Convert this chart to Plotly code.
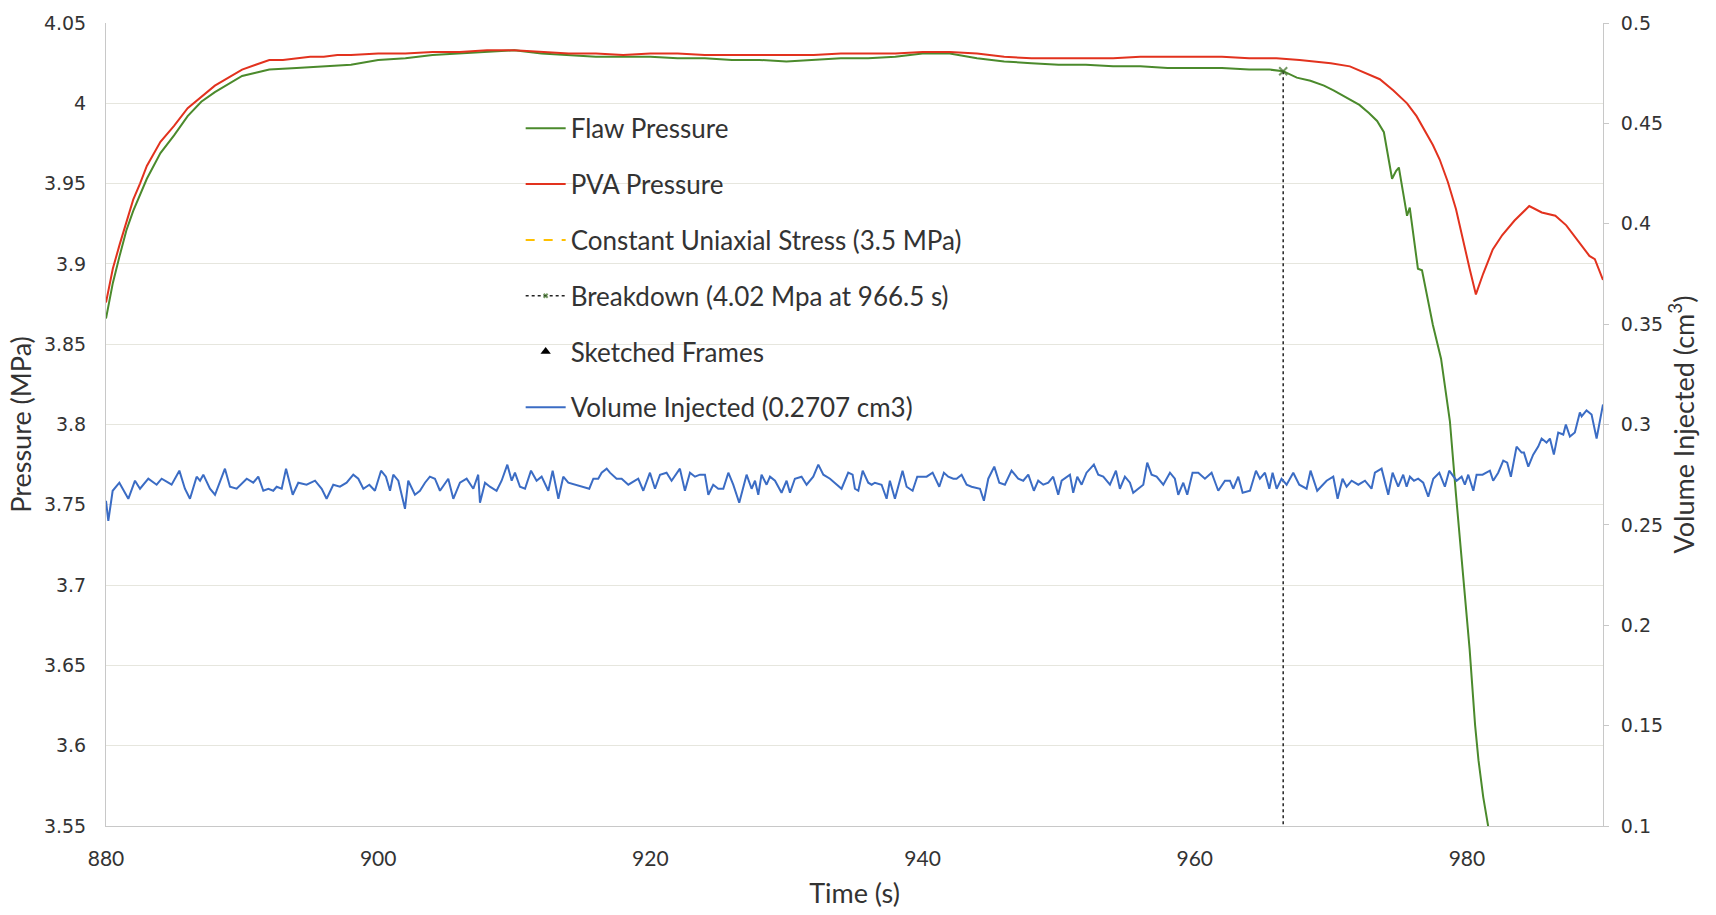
import plotly.graph_objects as go

# ---- Pressure records (MPa) ----
pva_time = [880.0, 880.5, 881.0, 881.5, 882.0, 882.5, 883.0, 884.0, 885.0, 886.0, 887.0, 888.0,
            889.0, 890.0, 891.0, 892.0, 893.0, 894.0, 895.0, 896.0, 897.0, 898.0, 900.0, 902.0,
            904.0, 906.0, 908.0, 910.0, 912.0, 914.0, 916.0, 918.0, 920.0, 922.0, 924.0, 926.0,
            928.0, 930.0, 932.0, 934.0, 936.0, 938.0, 940.0, 942.0, 944.0, 946.0, 948.0, 950.0,
            952.0, 954.0, 956.0, 958.0, 960.0, 962.0, 964.0, 966.0, 967.7, 969.0, 970.0, 971.4,
            972.5, 973.6, 974.6, 975.6, 976.3, 977.0, 977.5, 978.0, 978.6, 979.2, 979.7, 980.2,
            980.66, 981.2, 981.9, 982.6, 983.5, 984.58, 985.5, 986.5, 987.3, 988.2, 989.0, 989.4,
            990.0]
pva_pressure = [3.876, 3.897, 3.912, 3.926, 3.940, 3.950, 3.961, 3.976, 3.986, 3.997, 4.004, 4.011,
                4.016, 4.021, 4.024, 4.027, 4.027, 4.028, 4.029, 4.029, 4.030, 4.030, 4.031, 4.031,
                4.032, 4.032, 4.033, 4.033, 4.032, 4.031, 4.031, 4.030, 4.031, 4.031, 4.030, 4.030,
                4.030, 4.030, 4.030, 4.031, 4.031, 4.031, 4.032, 4.032, 4.031, 4.029, 4.028, 4.028,
                4.028, 4.028, 4.029, 4.029, 4.029, 4.029, 4.028, 4.028, 4.027, 4.026, 4.025, 4.023,
                4.019, 4.015, 4.008, 4.000, 3.992, 3.982, 3.974, 3.965, 3.951, 3.934, 3.915, 3.897,
                3.881, 3.894, 3.909, 3.918, 3.927, 3.936, 3.932, 3.930, 3.924, 3.914, 3.905, 3.903,
                3.890]

flaw_time = [880.0, 880.5, 881.0, 881.5, 882.0, 882.5, 883.0, 884.0, 885.0, 886.0, 887.0, 888.0,
             889.0, 890.0, 891.0, 892.0, 894.0, 896.0, 898.0, 900.0, 902.0, 904.0, 906.0, 908.0,
             910.0, 912.0, 914.0, 916.0, 918.0, 920.0, 922.0, 924.0, 926.0, 928.0, 930.0, 932.0,
             934.0, 936.0, 938.0, 940.0, 942.0, 944.0, 946.0, 948.0, 950.0, 952.0, 954.0, 956.0,
             958.0, 960.0, 962.0, 964.0, 965.5, 966.5, 967.5, 968.5, 969.5, 970.2, 971.0, 972.1,
             972.8, 973.4, 973.9, 974.2, 974.5, 974.8, 975.0, 975.3, 975.6, 975.8, 976.1, 976.4,
             976.7, 977.0, 977.5, 978.1, 978.75, 979.2, 979.7, 980.2, 980.6, 980.85, 981.2, 981.6]
flaw_pressure = [3.866, 3.888, 3.905, 3.921, 3.933, 3.943, 3.953, 3.969, 3.980, 3.992, 4.001, 4.007,
                 4.012, 4.017, 4.019, 4.021, 4.022, 4.023, 4.024, 4.027, 4.028, 4.030, 4.031, 4.032,
                 4.033, 4.031, 4.030, 4.029, 4.029, 4.029, 4.028, 4.028, 4.027, 4.027, 4.026, 4.027,
                 4.028, 4.028, 4.029, 4.031, 4.031, 4.028, 4.026, 4.025, 4.024, 4.024, 4.023, 4.023,
                 4.022, 4.022, 4.022, 4.021, 4.021, 4.020, 4.016, 4.014, 4.011, 4.008, 4.004, 3.999,
                 3.994, 3.989, 3.982, 3.968, 3.953, 3.958, 3.960, 3.945, 3.930, 3.935, 3.915, 3.897,
                 3.896, 3.884, 3.862, 3.841, 3.802, 3.756, 3.709, 3.660, 3.613, 3.591, 3.568, 3.548]

# ---- Reference lines / events ----
uniaxial_time = [880.0, 990.0]
uniaxial_stress = [3.5, 3.5]
breakdown_time = [966.5, 966.5]
breakdown_pressure = [4.02, 3.5]
sketch_time = [None]
sketch_pressure = [None]

# ---- Injected volume (cm3) ----
vol_time = [880.0, 880.17, 880.49, 880.98, 881.64, 882.13, 882.5, 883.11, 883.72, 884.09, 884.58,
            884.82, 885.39, 885.8, 886.17, 886.66, 886.91, 887.15, 887.64, 888.01, 888.74, 889.11,
            889.6, 890.34, 890.82, 891.19, 891.56, 891.93, 892.29, 892.54, 892.91, 893.23, 893.72,
            894.13, 894.74, 895.36, 895.85, 896.21, 896.7, 897.19, 897.68, 898.17, 898.54, 898.91,
            899.35, 899.76, 900.21, 900.57, 900.87, 901.11, 901.48, 901.97, 902.21, 902.7, 903.07,
            903.44, 903.8, 904.17, 904.54, 905.15, 905.52, 906.01, 906.5, 906.99, 907.35,
            907.48, 907.85, 908.21, 908.7, 909.07, 909.49, 909.81, 910.05, 910.42, 910.79, 911.23,
            911.64, 912.01, 912.5, 912.82, 913.24, 913.6, 913.97, 914.46, 915.07, 915.51, 915.81,
            916.17, 916.42, 916.79, 917.03, 917.52, 917.89, 918.38, 918.87, 919.11, 919.48, 919.97,
            920.34, 920.71, 921.19, 921.56, 922.17, 922.54, 922.91, 923.28, 923.64, 924.01, 924.26,
            924.62, 924.99, 925.36, 925.73, 926.09, 926.53, 927.07, 927.44, 927.69, 927.93, 928.17,
            928.54, 928.79, 929.16, 929.64, 930.01, 930.26, 930.62, 931.11, 931.48, 931.97, 932.34,
            932.71, 933.2, 933.56, 934.05, 934.54,
            934.86, 935.03, 935.28, 935.6, 936.01, 936.26, 936.5, 936.99, 937.36, 937.6, 937.97,
            938.53, 938.83, 939.27, 939.61, 940.3, 940.74, 941.23, 941.57, 941.89, 942.26, 942.5,
            942.87, 943.24, 943.6, 944.22, 944.51, 944.83, 945.27, 945.64, 946.05, 946.54, 947.03,
            947.4, 947.77, 948.18, 948.5, 948.87, 949.24, 949.6, 949.97, 950.22, 950.58, 950.83,
            951.07, 951.37, 951.69, 952.05, 952.59, 952.91, 953.28, 953.77, 954.21, 954.5, 954.87,
            955.24, 955.48, 955.85, 956.22, 956.51, 956.83, 957.2, 957.69, 958.18, 958.54, 958.79,
            959.16, 959.45, 959.84, 960.26, 960.75, 961.24, 961.73,
            962.22, 962.59, 962.83, 963.2, 963.52, 964.06, 964.5, 964.79, 965.16, 965.48, 965.72,
            966.02, 966.38, 966.75, 967.24, 967.68, 968.22, 968.51, 969.0, 969.69, 970.18, 970.5,
            970.86, 971.16, 971.53, 972.02, 972.51, 972.99, 973.24, 973.73, 974.22, 974.54, 974.95,
            975.32, 975.57, 975.81, 976.11, 976.42, 976.79, 977.16, 977.53, 977.97, 978.38, 978.7,
            979.24, 979.61, 979.85, 980.1, 980.47, 980.71, 981.15, 981.69, 981.93, 982.3, 982.67,
            982.96, 983.23, 983.65, 984.02, 984.19, 984.51, 984.87, 985.24, 985.49, 985.85, 986.1,
            986.39, 986.71, 987.08, 987.27, 987.57, 987.93, 988.3, 988.43, 988.79, 989.16, 989.53,
            990.0]
vol_cm3 = [0.262, 0.252, 0.267, 0.271, 0.263, 0.272, 0.268, 0.273, 0.270, 0.273, 0.271,
           0.270, 0.277, 0.268, 0.263, 0.274, 0.272, 0.275, 0.268, 0.265, 0.278, 0.269,
           0.268, 0.273, 0.271, 0.274, 0.267, 0.268, 0.267, 0.269, 0.268, 0.278, 0.265,
           0.271, 0.270, 0.272, 0.268, 0.263, 0.270, 0.269, 0.271, 0.275, 0.273, 0.268,
           0.270, 0.267, 0.277, 0.274, 0.267, 0.275, 0.272, 0.258, 0.272, 0.265, 0.267,
           0.271, 0.274, 0.273, 0.267, 0.273, 0.263, 0.271, 0.273, 0.268, 0.275,
           0.261, 0.271, 0.269, 0.267, 0.272, 0.280, 0.272, 0.276, 0.269, 0.268, 0.277,
           0.272, 0.274, 0.267, 0.277, 0.263, 0.274, 0.271, 0.270, 0.269, 0.268, 0.273,
           0.273, 0.276, 0.278, 0.276, 0.273, 0.273, 0.270, 0.272, 0.273, 0.267, 0.276,
           0.268, 0.275, 0.276, 0.272, 0.278, 0.267, 0.276, 0.274, 0.275, 0.275, 0.265,
           0.270, 0.268, 0.268, 0.276, 0.270, 0.261, 0.275, 0.268, 0.272, 0.265, 0.275,
           0.270, 0.274, 0.272, 0.266, 0.272, 0.266, 0.273, 0.274, 0.270, 0.274, 0.280,
           0.275, 0.273, 0.271, 0.268, 0.276,
           0.275, 0.268, 0.267, 0.277, 0.271, 0.270, 0.271, 0.270, 0.263, 0.272, 0.263,
           0.277, 0.269, 0.267, 0.274, 0.274, 0.276, 0.269, 0.276, 0.274, 0.273, 0.273,
           0.275, 0.270, 0.269, 0.268, 0.262, 0.273, 0.279, 0.271, 0.270, 0.277, 0.273,
           0.272, 0.275, 0.267, 0.272, 0.270, 0.271, 0.274, 0.265, 0.272, 0.274, 0.275,
           0.266, 0.274, 0.270, 0.276, 0.280, 0.275, 0.274, 0.270, 0.277, 0.268, 0.274,
           0.271, 0.266, 0.268, 0.270, 0.281, 0.275, 0.274, 0.270, 0.276, 0.273, 0.265,
           0.271, 0.265, 0.276, 0.276, 0.273, 0.276, 0.267,
           0.272, 0.272, 0.268, 0.274, 0.266, 0.267, 0.277, 0.273, 0.276, 0.268, 0.276,
           0.268, 0.273, 0.270, 0.276, 0.270, 0.268, 0.277, 0.267, 0.272, 0.274, 0.263,
           0.273, 0.269, 0.272, 0.270, 0.272, 0.268, 0.276, 0.278, 0.265, 0.276, 0.269,
           0.275, 0.269, 0.274, 0.272, 0.273, 0.271, 0.264, 0.273, 0.276, 0.269, 0.277,
           0.272, 0.274, 0.270, 0.275, 0.267, 0.275, 0.275, 0.277, 0.272, 0.276, 0.282,
           0.281, 0.274, 0.289, 0.286, 0.286, 0.279, 0.285, 0.289, 0.293, 0.291, 0.293,
           0.285, 0.296, 0.295, 0.300, 0.294, 0.296, 0.306, 0.304, 0.307, 0.305, 0.293,
           0.310]

# ---- Axis ticks ----
time_ticks = [880, 900, 920, 940, 960, 980]
time_labels = ["880", "900", "920", "940", "960", "980"]
pressure_ticks = [3.55, 3.6, 3.65, 3.7, 3.75, 3.8, 3.85, 3.9, 3.95, 4.0, 4.05]
pressure_labels = ["3.55", "3.6", "3.65", "3.7", "3.75", "3.8", "3.85", "3.9", "3.95", "4", "4.05"]
volume_ticks = [0.1, 0.15, 0.2, 0.25, 0.3, 0.35, 0.4, 0.45, 0.5]
volume_labels = ["0.1", "0.15", "0.2", "0.25", "0.3", "0.35", "0.4", "0.45", "0.5"]

GREEN = "#4b8a2c"
RED = "#e2321e"
BLUE = "#3b6cc4"
GRID = "#e6e6de"
AXIS = "#c8c8c8"
TXT = "#333333"
SANS = "Lato, Open Sans, sans-serif"
LEG_FONT = dict(family=SANS, size=26, color=TXT)
TITLE_FONT = dict(family=SANS, size=27, color=TXT)
NUM_FONT = dict(family="DejaVu Sans, sans-serif", size=19, color=TXT)

fig = go.Figure()

fig.add_trace(go.Scatter(x=flaw_time, y=flaw_pressure, mode="lines", name="Flaw Pressure",
                         line=dict(color=GREEN, width=2), legendgroup="a"))
fig.add_trace(go.Scatter(x=pva_time, y=pva_pressure, mode="lines", name="PVA Pressure",
                         line=dict(color=RED, width=2), legendgroup="b"))
fig.add_trace(go.Scatter(x=uniaxial_time, y=uniaxial_stress, mode="lines",
                         name="Constant Uniaxial Stress (3.5 MPa)",
                         line=dict(color="#ffc000", width=2, dash="dash"), legendgroup="c"))
fig.add_trace(go.Scatter(x=breakdown_time, y=breakdown_pressure, mode="lines+markers",
                         name="Breakdown (4.02 Mpa at 966.5 s)",
                         line=dict(color="#222222", width=1.5, dash="dot"),
                         marker=dict(symbol="x-thin", size=[8, 0], color=GREEN,
                                     line=dict(color="#3c6e24", width=2)),
                         legendgroup="d"))
fig.add_trace(go.Scatter(x=sketch_time, y=sketch_pressure, mode="markers", name="Sketched Frames",
                         marker=dict(symbol="triangle-up", size=9, color="black"), legendgroup="e"))
fig.add_trace(go.Scatter(x=vol_time, y=vol_cm3, mode="lines", name="Volume Injected (0.2707 cm3)",
                         line=dict(color=BLUE, width=2), yaxis="y2", legendgroup="f"))

fig.update_layout(
    width=1716, height=915,
    margin=dict(l=106, r=113, t=20, b=89),
    paper_bgcolor="white", plot_bgcolor="white",
    showlegend=True,
    legend=dict(x=0.277, y=0.898, xanchor="left", yanchor="top", bgcolor="rgba(0,0,0,0)",
                font=LEG_FONT, tracegroupgap=19, itemwidth=40),
    xaxis=dict(range=[880, 990], tickvals=time_ticks, ticktext=time_labels,
               showgrid=False, zeroline=False, showline=True, linecolor=AXIS, linewidth=1,
               ticks="", tickfont=dict(family=SANS, size=21, color=TXT),
               ticklabelstandoff=14,
               title=dict(text="Time (s)", font=TITLE_FONT, standoff=14)),
    yaxis=dict(range=[3.55, 4.05], tickvals=pressure_ticks, ticktext=pressure_labels,
               showgrid=True, gridcolor=GRID, gridwidth=1, zeroline=False,
               showline=True, linecolor=AXIS, linewidth=1, ticks="",
               tickfont=NUM_FONT, ticklabelstandoff=15,
               title=dict(text="Pressure (MPa)", font=TITLE_FONT, standoff=4)),
    yaxis2=dict(range=[0.1, 0.5], tickvals=volume_ticks, ticktext=volume_labels,
                overlaying="y", side="right", showgrid=False, zeroline=False,
                showline=True, linecolor=AXIS, linewidth=1, ticks="outside", ticklen=5,
                tickcolor=AXIS, tickfont=NUM_FONT, ticklabelstandoff=8,
                title=dict(text="Volume Injected (cm<sup>3</sup>)", font=TITLE_FONT, standoff=12)),
)

fig.write_html("out.html")
